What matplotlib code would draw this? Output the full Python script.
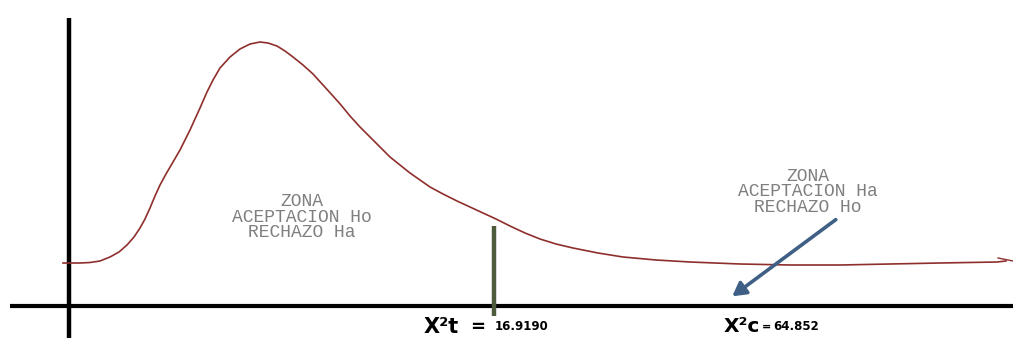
import matplotlib.pyplot as plt

# curve (pixel space, y grows downward)
curve_x = [63, 80, 90, 100, 110, 119, 127, 134, 140, 145, 150, 155, 160, 166, 173,
           180, 190, 200, 207, 213, 220, 230, 240, 250, 260, 268, 277, 285, 293, 303,
           313, 323, 333, 341, 350, 360, 370, 380, 390, 400, 410, 420, 430, 443, 457,
           470, 483, 496, 510, 525, 540, 556, 573, 598, 623, 656, 690, 740, 790, 840,
           890, 940, 997, 1006]
curve_y = [263, 263, 262.5, 261, 257, 252, 245, 237, 228, 219, 208, 196, 185, 174, 162,
           150, 130, 108, 92, 80, 68, 57, 49, 44, 42, 43, 46, 51, 57, 65,
           74, 85, 96, 105, 116, 127, 137, 147, 157, 165, 173, 180, 187, 194, 201,
           207, 213, 219, 226, 233, 239, 244, 248, 253, 257, 260, 262, 264, 265, 265,
           264, 263, 262, 261]

crit_x = 494          # X2 tabulado
crit_top = 226
arrow_start = (838, 218)
arrow_end = (730, 298)

left_text = "ZONA\nACEPTACION Ho\nRECHAZO Ha"
right_text = "ZONA\nACEPTACION Ha\nRECHAZO Ho"
xt_value = "16.9190"
xc_value = "64.852"

fig = plt.figure(figsize=(10.13, 3.43), dpi=100)
ax = fig.add_axes([0, 0, 1, 1])
ax.set_xlim(0, 1013)
ax.set_ylim(343, 0)
ax.axis('off')

# axes lines
ax.plot([69, 69], [18, 338], color='black', lw=3.2, solid_capstyle='butt')
ax.plot([10, 1013], [306, 306], color='black', lw=3.0, solid_capstyle='butt')

# chi-square curve
ax.plot(curve_x, curve_y, color='#8e2f2c', lw=1.2, solid_joinstyle='round')
ax.plot([998, 1013], [258, 261], color='#8e2f2c', lw=1.0)

# critical line
ax.plot([crit_x, crit_x], [crit_top, 316], color='#4d5c3c', lw=3.2, solid_capstyle='butt')

# arrow
ax.annotate('', xy=arrow_end, xytext=arrow_start,
            arrowprops=dict(arrowstyle='-|>,head_length=0.8,head_width=0.45',
                            color='#3f5f85', lw=2.6))

# zone texts
ax.text(302, 217, left_text, ha='center', va='center', family='Liberation Mono',
        fontsize=13, color='#7f7f7f', linespacing=0.88)
ax.text(808, 192, right_text, ha='center', va='center', family='Liberation Mono',
        fontsize=13, color='#7f7f7f', linespacing=0.88)

# labels
ax.text(424, 327, "X\u00b2t", ha='left', va='center', fontsize=15, fontweight='bold',
        family='DejaVu Sans')
ax.text(470, 327, "=", ha='left', va='center', fontsize=13, fontweight='bold')
ax.text(495, 326, xt_value, ha='left', va='center', fontsize=8.5, fontweight='bold',
        family='DejaVu Sans')
ax.text(724, 326, "X\u00b2c", ha='left', va='center', fontsize=14.5, fontweight='bold',
        family='DejaVu Sans')
ax.text(762, 327, "=", ha='left', va='center', fontsize=8, fontweight='bold')
ax.text(773, 327, xc_value, ha='left', va='center', fontsize=8.5, fontweight='bold',
        family='DejaVu Sans')

fig.savefig('out.png', dpi=100)
